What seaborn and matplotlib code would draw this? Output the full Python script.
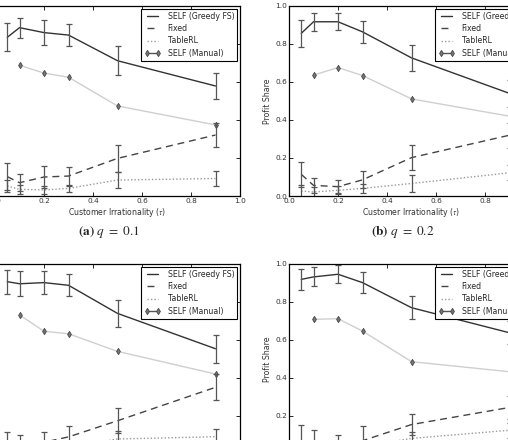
import matplotlib

matplotlib.use("Agg")
import matplotlib.pyplot as plt
import seaborn as sns

sns.set_style("ticks", {"xtick.direction": "in", "ytick.direction": "in"})
plt.rcParams["font.family"] = ["DejaVu Sans"]
plt.rcParams["mathtext.fontset"] = "stix"

# customer irrationality levels
tau = [0.05, 0.1, 0.2, 0.3, 0.5, 0.9]
tau_manual = [0.1, 0.2, 0.3, 0.5, 0.9]

# (a) q = 0.1
greedy_a = [0.835, 0.886, 0.860, 0.847, 0.712, 0.579]
greedy_a_err = [0.074, 0.053, 0.064, 0.057, 0.075, 0.067]
fixed_a = [0.102, 0.070, 0.100, 0.105, 0.198, 0.321]
fixed_a_err = [0.070, 0.045, 0.060, 0.050, 0.070, 0.065]
tablerl_a = [0.053, 0.035, 0.032, 0.040, 0.084, 0.092]
tablerl_a_err = [0.030, 0.025, 0.020, 0.020, 0.044, 0.039]
manual_a = [0.688, 0.647, 0.625, 0.474, 0.374]

# (b) q = 0.2
greedy_b = [0.856, 0.917, 0.917, 0.864, 0.727, 0.540]
greedy_b_err = [0.072, 0.048, 0.044, 0.057, 0.070, 0.070]
fixed_b = [0.114, 0.056, 0.049, 0.085, 0.202, 0.320]
fixed_b_err = [0.067, 0.040, 0.035, 0.045, 0.066, 0.065]
tablerl_b = [0.026, 0.021, 0.030, 0.040, 0.066, 0.122]
tablerl_b_err = [0.030, 0.025, 0.020, 0.025, 0.045, 0.040]
manual_b = [0.636, 0.676, 0.634, 0.511, 0.420]

# (c) q = 0.3
greedy_c = [0.907, 0.896, 0.902, 0.888, 0.740, 0.554]
greedy_c_err = [0.063, 0.065, 0.060, 0.059, 0.072, 0.073]
fixed_c = [0.070, 0.060, 0.062, 0.090, 0.175, 0.351]
fixed_c_err = [0.045, 0.040, 0.055, 0.057, 0.066, 0.068]
tablerl_c = [0.040, 0.030, 0.030, 0.035, 0.079, 0.091]
tablerl_c_err = [0.030, 0.025, 0.020, 0.020, 0.040, 0.040]
manual_c = [0.732, 0.646, 0.633, 0.540, 0.421]

# (d) q = 0.4
greedy_d = [0.919, 0.932, 0.946, 0.902, 0.770, 0.638]
greedy_d_err = [0.056, 0.050, 0.048, 0.054, 0.061, 0.060]
fixed_d = [0.070, 0.060, 0.050, 0.070, 0.155, 0.245]
fixed_d_err = [0.080, 0.064, 0.050, 0.077, 0.055, 0.060]
tablerl_d = [0.030, 0.025, 0.030, 0.040, 0.082, 0.125]
tablerl_d_err = [0.020, 0.020, 0.020, 0.020, 0.035, 0.040]
manual_d = [0.709, 0.712, 0.647, 0.486, 0.433]

ticks = [0.0, 0.2, 0.4, 0.6, 0.8, 1.0]
tick_labels = ["0.0", "0.2", "0.4", "0.6", "0.8", "1.0"]


def draw_panel(ax, greedy, greedy_err, fixed, fixed_err, tablerl, tablerl_err, manual):
    sns.lineplot(x=tau, y=greedy, ax=ax, color="#333333", linewidth=1.0, label="SELF (Greedy FS)")
    sns.lineplot(x=tau, y=fixed, ax=ax, color="#444444", linewidth=1.0, linestyle=(0, (5, 3.5)), label="Fixed")
    sns.lineplot(x=tau, y=tablerl, ax=ax, color="#9a9a9a", linewidth=1.0, linestyle=(0, (1, 1.5)), label="TableRL")
    sns.lineplot(
        x=tau_manual, y=manual, ax=ax, color="#cfcfcf", linewidth=1.0,
        marker="d", markersize=3.2, markerfacecolor="#777777", markeredgecolor="#444444",
        markeredgewidth=0.6, label="SELF (Manual)",
    )
    for vals, errs in [(greedy, greedy_err), (fixed, fixed_err), (tablerl, tablerl_err)]:
        ax.errorbar(tau, vals, yerr=errs, fmt="none", ecolor="#555555", elinewidth=0.9, capsize=2, capthick=0.9)

    ax.set_xlim(0, 1)
    ax.set_ylim(0, 1)
    ax.set_xticks(ticks, tick_labels)
    ax.set_yticks(ticks, tick_labels)
    ax.tick_params(top=True, right=True, direction="in", length=3, width=0.7,
                   labelsize=5.3, labelcolor="#333333", pad=1.5)
    for spine in ax.spines.values():
        spine.set_color("black")
        spine.set_linewidth(0.9)
    ax.set_xlabel(r"Customer Irrationality ($\tau$)", fontsize=5.6, color="#333333", labelpad=1.5)
    ax.set_ylabel("Profit Share", fontsize=5.6, color="#333333", labelpad=2)
    leg = ax.legend(loc="upper right", numpoints=2, fontsize=5.6, fancybox=False, framealpha=1,
                    edgecolor="black", borderaxespad=0.35, handlelength=2.1, labelspacing=0.42,
                    borderpad=0.4, handletextpad=0.9)
    leg.get_frame().set_linewidth(0.8)
    leg.legend_handles[3].set_color("#555555")


fig = plt.figure(figsize=(5.08, 4.40), dpi=100)
w, h = 245 / 508, 190 / 440
ax_a = fig.add_axes([-5 / 508, 1 - 196 / 440, w, h])
ax_b = fig.add_axes([289 / 508, 1 - 196 / 440, w, h])
ax_c = fig.add_axes([-5 / 508, 1 - 454 / 440, w, h])
ax_d = fig.add_axes([289 / 508, 1 - 454 / 440, w, h])

draw_panel(ax_a, greedy_a, greedy_a_err, fixed_a, fixed_a_err, tablerl_a, tablerl_a_err, manual_a)
draw_panel(ax_b, greedy_b, greedy_b_err, fixed_b, fixed_b_err, tablerl_b, tablerl_b_err, manual_b)
draw_panel(ax_c, greedy_c, greedy_c_err, fixed_c, fixed_c_err, tablerl_c, tablerl_c_err, manual_c)
draw_panel(ax_d, greedy_d, greedy_d_err, fixed_d, fixed_d_err, tablerl_d, tablerl_d_err, manual_d)

fig.text(109 / 508, 1 - 232 / 440, r"$\mathbf{(a)}\ q\ =\ 0.1$", ha="center", va="center", fontsize=9.5)
fig.text(403 / 508, 1 - 232 / 440, r"$\mathbf{(b)}\ q\ =\ 0.2$", ha="center", va="center", fontsize=9.5)

fig.savefig("out.png", dpi=100)
